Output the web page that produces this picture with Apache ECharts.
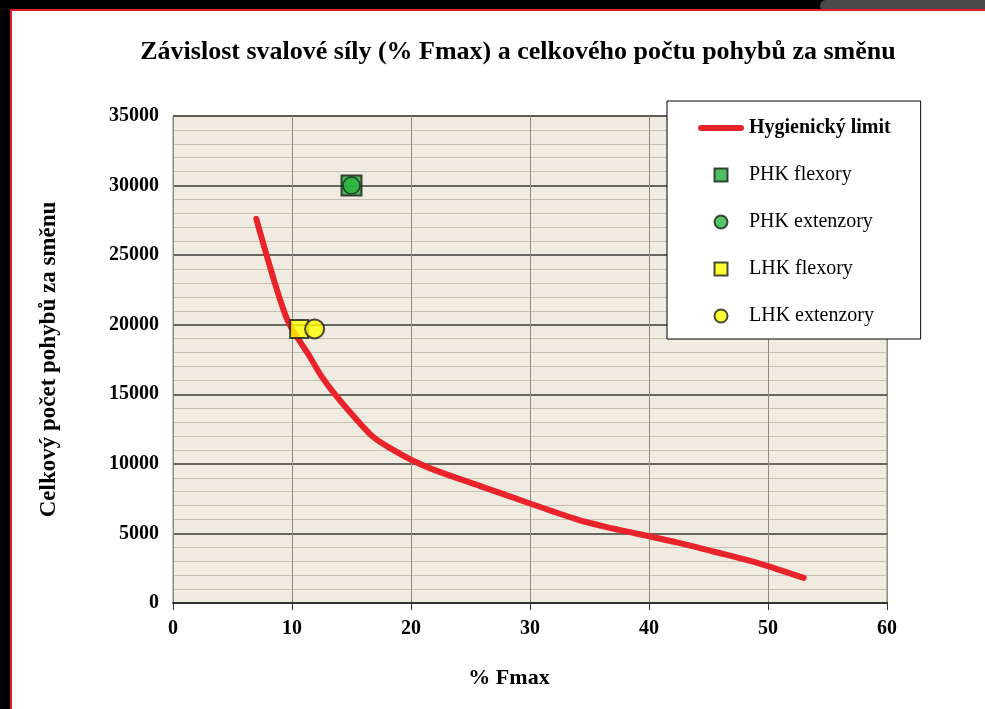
<!DOCTYPE html>
<html>
<head>
<meta charset="utf-8">
<script src="https://cdn.jsdelivr.net/npm/echarts@6/dist/echarts.min.js"></script>
<style>
  html, body { margin: 0; padding: 0; background: #000; }
  #container { width: 985px; height: 709px; }
</style>
</head>
<body>
<div id="container"></div>
<script>
// hygienický limit (x = % Fmax, y = počet pohybů)
var limitX = [7, 8, 9, 9.8, 11.5, 12.4, 13.7, 15.2, 16.8, 18.5, 20, 22, 26, 30, 34, 37.5, 40, 42.6, 45.4, 48.2, 50.2, 53];
var limitY = [27600, 24600, 21800, 20000, 17700, 16400, 14900, 13400, 11950, 11000, 10300, 9550, 8350, 7150, 6000, 5250, 4800, 4300, 3700, 3100, 2600, 1800];

var phkFlexory = [15, 30000];
var phkExtenzory = [15, 30000];
var lhkFlexory = [10.6, 19700];
var lhkExtenzory = [11.9, 19700];

var dom = document.getElementById("container");
var myChart = echarts.init(dom);
var font = 'Liberation Serif';
var squareIcon = 'path://M0,0L10,0L10,10L0,10Z';

var limitData = limitX.map(function (x, i) { return [x, limitY[i]]; });

option = {
  animation: false,
  backgroundColor: '#000',
  textStyle: { fontFamily: font },
  graphic: [
    { type: 'rect', z: -100, shape: { x: 820, y: 0, width: 170, height: 12, r: 6 }, style: { fill: '#4a4a4a' } },
    { type: 'rect', z: -99, shape: { x: 10, y: 9, width: 980, height: 705 }, style: { fill: '#e01e22' } },
    { type: 'rect', z: -98, shape: { x: 12, y: 11, width: 980, height: 705 }, style: { fill: '#fff' } }
  ],
  title: {
    text: 'Závislost svalové síly (% Fmax) a celkového počtu pohybů za směnu',
    left: 513,
    top: 34,
    textAlign: 'center',
    textStyle: { fontFamily: font, fontSize: 26, fontWeight: 'bold', color: '#000' }
  },
  grid: {
    left: 173, right: 98, top: 116, bottom: 106,
    show: true,
    backgroundColor: '#efebe0',
    borderColor: '#8e8b5e',
    borderWidth: 1
  },
  legend: {
    orient: 'vertical',
    left: 667,
    top: 101,
    padding: [17, 30, 13, 31],
    itemGap: 27,
    itemWidth: 46,
    itemHeight: 13,
    backgroundColor: '#fff',
    borderColor: '#000',
    borderWidth: 1,
    textStyle: { fontFamily: font, fontSize: 20, color: '#000' },
    data: [
      { name: 'Hygienický limit', icon: 'path://M3,0L43,0A3,3,0,0,1,43,6L3,6A3,3,0,0,1,3,0Z', textStyle: { fontWeight: 'bold' } },
      { name: 'PHK flexory', icon: squareIcon },
      { name: 'PHK extenzory', icon: 'circle' },
      { name: 'LHK flexory', icon: squareIcon },
      { name: 'LHK extenzory', icon: 'circle' }
    ]
  },
  xAxis: {
    type: 'value',
    min: 0, max: 60, interval: 10,
    name: '% Fmax',
    nameLocation: 'middle',
    nameGap: 64,
    nameTextStyle: { fontFamily: font, fontSize: 22, fontWeight: 'bold', color: '#000', padding: [0, 42, 0, 0] },
    axisLine: { lineStyle: { color: '#333', width: 2 } },
    axisTick: { show: true, length: 7, lineStyle: { color: '#333' } },
    axisLabel: { margin: 16, fontFamily: font, fontSize: 20, fontWeight: 'bold', color: '#000' },
    splitLine: { show: true, lineStyle: { color: '#8e8c80', width: 1 } }
  },
  yAxis: {
    type: 'value',
    min: 0, max: 35000, interval: 5000,
    name: 'Celkový počet pohybů za směnu',
    nameLocation: 'middle',
    nameGap: 112,
    nameTextStyle: { fontFamily: font, fontSize: 23, fontWeight: 'bold', color: '#000' },
    axisLine: { show: false },
    axisTick: { show: false },
    minorTick: { show: false, splitNumber: 5 },
    axisLabel: {
      margin: 14, fontFamily: font, fontSize: 20, fontWeight: 'bold', color: '#000',
      formatter: function (v) { return String(v); }
    },
    splitLine: { show: true, lineStyle: { color: '#3a3a36', width: 1.5 } },
    minorSplitLine: { show: true, lineStyle: { color: '#c4c0b2', width: 1 } }
  },
  series: [
    {
      type: 'line',
      name: 'Hygienický limit',
      data: limitData,
      smooth: 0.3,
      showSymbol: false,
      symbol: 'none',
      color: '#e8232a',
      lineStyle: { width: 6, color: '#e8232a', cap: 'round' },
      z: 3
    },
    {
      type: 'scatter',
      name: 'PHK flexory',
      symbol: 'rect',
      symbolSize: 20,
      data: [phkFlexory],
      itemStyle: { color: '#22ae3c', borderColor: '#1a1a1a', borderWidth: 2 },
      z: 4
    },
    {
      type: 'scatter',
      name: 'PHK extenzory',
      symbol: 'circle',
      symbolSize: 17,
      data: [phkExtenzory],
      itemStyle: { color: '#2bb53f', borderColor: '#1a1a1a', borderWidth: 1.5 },
      z: 5
    },
    {
      type: 'scatter',
      name: 'LHK flexory',
      symbol: 'rect',
      symbolSize: 18,
      data: [lhkFlexory],
      itemStyle: { color: '#ffff00', borderColor: '#1a1a1a', borderWidth: 2 },
      z: 4
    },
    {
      type: 'scatter',
      name: 'LHK extenzory',
      symbol: 'circle',
      symbolSize: 19,
      data: [lhkExtenzory],
      itemStyle: { color: '#ffff00', borderColor: '#1a1a1a', borderWidth: 2 },
      z: 5
    }
  ]
};

if (option && typeof option === "object") {
  myChart.setOption(option, true);
}
</script>
</body>
</html>
